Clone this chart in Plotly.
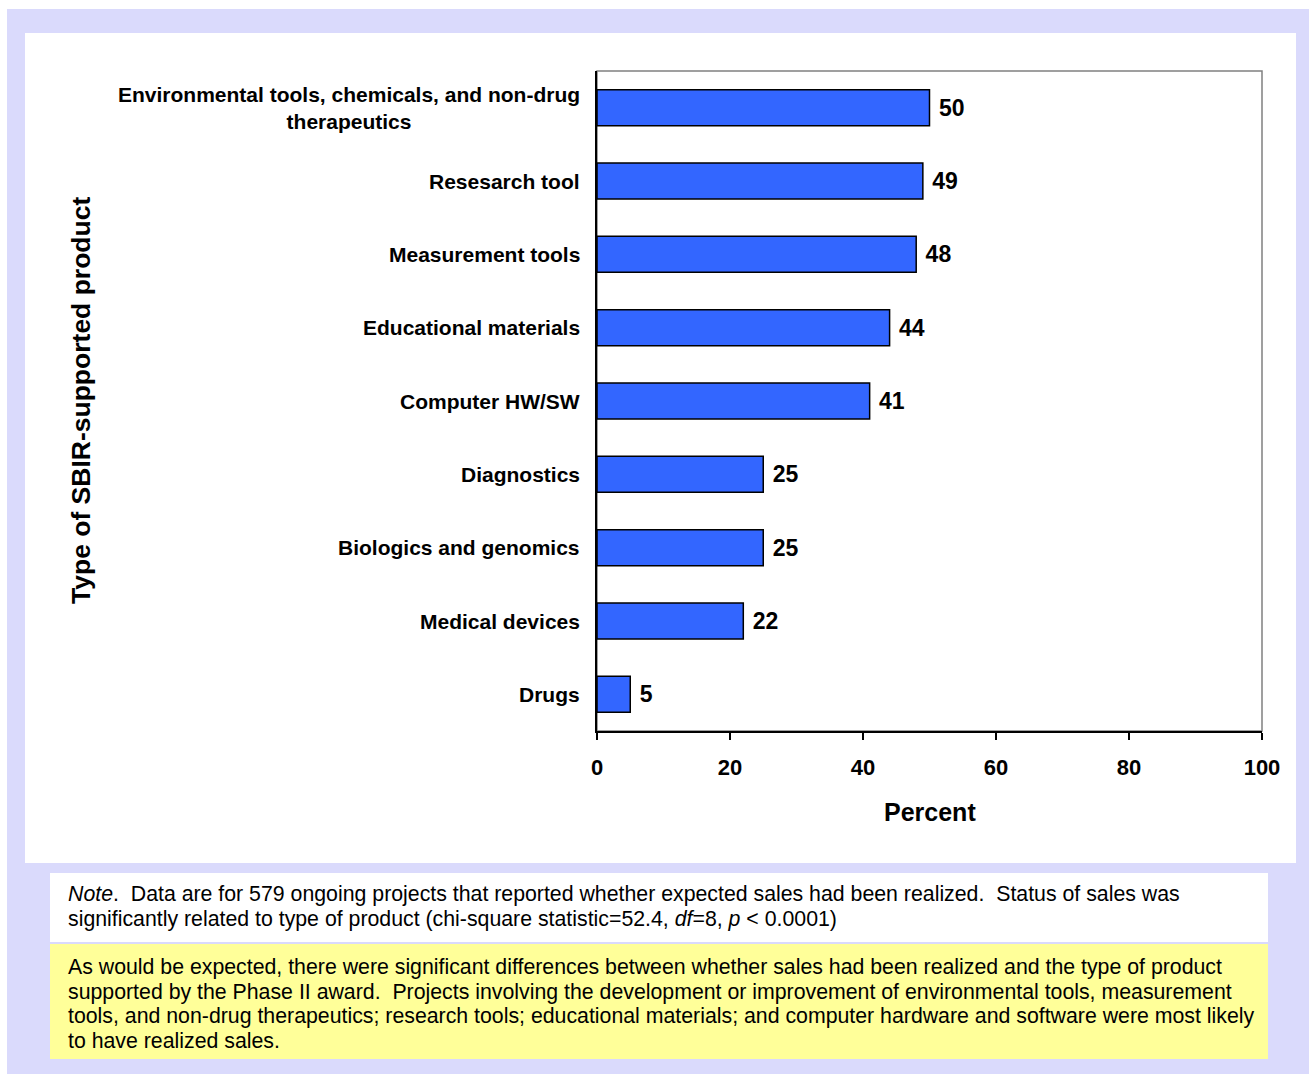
import plotly.graph_objects as go

# data, top to bottom as in the chart
categories = [
    "Environmental tools, chemicals, and non-drug<br>therapeutics",
    "Resesarch tool",
    "Measurement tools",
    "Educational materials",
    "Computer HW/SW",
    "Diagnostics",
    "Biologics and genomics",
    "Medical devices",
    "Drugs",
]
percent = [50, 49, 48, 44, 41, 25, 25, 22, 5]
x_ticks = [0, 20, 40, 60, 80, 100]

note_lines = [
    "<i>Note</i>.  Data are for 579 ongoing projects that reported whether expected sales had been realized.  Status of sales was",
    "significantly related to type of product (chi-square statistic=52.4, <i>df</i>=8, <i>p</i> < 0.0001)",
]
box_lines = [
    "As would be expected, there were significant differences between whether sales had been realized and the type of product",
    "supported by the Phase II award.  Projects involving the development or improvement of environmental tools, measurement",
    "tools, and non-drug therapeutics; research tools; educational materials; and computer hardware and software were most likely",
    "to have realized sales.",
]

W, H = 1309, 1074
L, R, T, B = 597, 1262, 71, 731
FONT = "Liberation Sans, Arial, sans-serif"


def px(x):
    # page pixel -> paper x
    return (x - L) / (R - L)


def py(y):
    return (B - y) / (B - T)


def nbsp(s):
    return s.replace("  ", "&nbsp; ")


fig = go.Figure(go.Bar(
    x=percent, y=categories, orientation="h",
    marker=dict(color="#3366FF", line=dict(color="black", width=1.5)),
    text=[f"&nbsp;{v}" for v in percent], textposition="outside", cliponaxis=False,
    textfont=dict(family=FONT, size=23, color="black", weight="bold"),
    hoverinfo="skip",
))

# background panels
panels = [
    (7, 9, 1309, 1074, "#DADAFC"),
    (25, 33, 1296, 863, "white"),
    (50, 873, 1268, 942, "white"),
    (50, 944, 1268, 1059, "#FFFF99"),
]
for x0, y0, x1, y1, c in panels:
    fig.add_shape(type="rect", xref="paper", yref="paper", layer="below",
                  x0=px(x0), x1=px(x1), y0=py(y0), y1=py(y1),
                  fillcolor=c, line_width=0)
fig.add_shape(type="rect", xref="paper", yref="paper", layer="below",
              x0=0, x1=1, y0=0, y1=1, line=dict(color="#808080", width=1.5))

# category labels
for c in categories:
    fig.add_annotation(x=0, xref="paper", y=c, yref="y", text=c, showarrow=False,
                       xanchor="right", xshift=-15, align="center",
                       font=dict(family=FONT, size=21, color="black", weight="bold"))

fig.add_annotation(x=px(81), xref="paper", y=0.5, yref="paper", textangle=-90,
                   xanchor="center", yanchor="middle",
                   text="Type of SBIR-supported product", showarrow=False,
                   font=dict(family=FONT, size=26.5, color="black", weight="bold"))
fig.add_annotation(x=0.5, xref="paper", y=py(812), yref="paper", text="Percent",
                   showarrow=False, xanchor="center", yanchor="middle",
                   font=dict(family=FONT, size=25, color="black", weight="bold"))

for i, line in enumerate(note_lines):
    fig.add_annotation(x=px(66), xref="paper", y=py(894 + 25 * i), yref="paper",
                       text=nbsp(line), showarrow=False, xanchor="left", yanchor="middle",
                       font=dict(family=FONT, size=21.3, color="black"))
for i, line in enumerate(box_lines):
    fig.add_annotation(x=px(66), xref="paper", y=py(967 + 24.5 * i), yref="paper",
                       text=nbsp(line), showarrow=False, xanchor="left", yanchor="middle",
                       font=dict(family=FONT, size=21.3, color="black"))

fig.update_layout(
    width=W, height=H,
    margin=dict(l=L, r=W - R, t=T, b=H - B),
    paper_bgcolor="white", plot_bgcolor="rgba(0,0,0,0)",
    bargap=0.51, showlegend=False,
)
fig.update_xaxes(range=[0, 100], tickvals=x_ticks, showgrid=False, zeroline=False,
                 showline=True, linecolor="black", linewidth=2,
                 ticks="outside", ticklen=7, tickwidth=1.5, tickcolor="black",
                 ticklabelstandoff=9,
                 tickfont=dict(family=FONT, size=22, color="black", weight="bold"))
fig.update_yaxes(autorange="reversed", showticklabels=False, showgrid=False,
                 zeroline=False, showline=True, linecolor="black", linewidth=2, ticks="")

# drop the page margin so the figure fills the window edge to edge
fig.write_html("out.html", config={"displayModeBar": False}, post_script=(
    "document.body.style.margin='0';"
    "document.documentElement.style.overflow='hidden';"))
